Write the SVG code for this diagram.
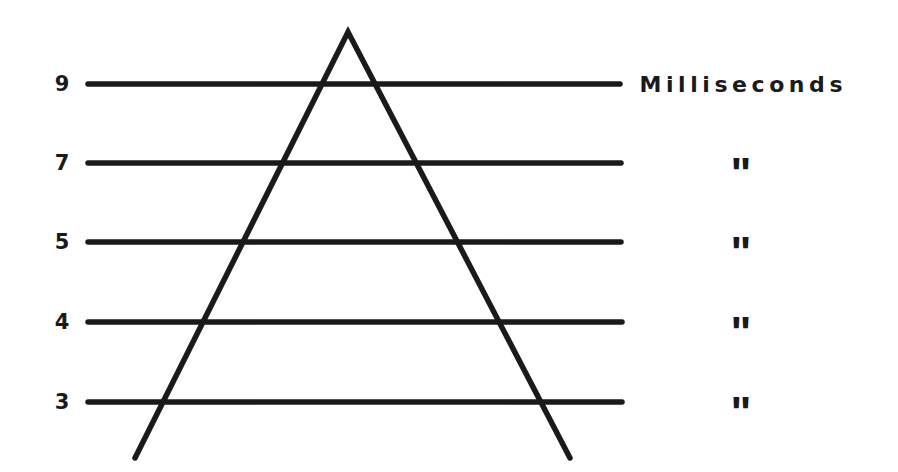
<svg xmlns="http://www.w3.org/2000/svg" width="898" height="472" viewBox="0 0 898 472">
<style>
.ln{stroke:#1a1a1a;stroke-width:5.5;stroke-linecap:round;fill:none}
.lbl{font-family:"DejaVu Sans","Liberation Sans",Arial,sans-serif;font-weight:bold;font-size:21px;fill:#1a1a1a;text-anchor:middle;dominant-baseline:central}
.unit{font-size:22px}
.dit{font-family:"Liberation Sans",Arial,sans-serif;font-weight:bold;font-size:44px;fill:#1a1a1a;text-anchor:middle}
</style>
<rect width="898" height="472" fill="#ffffff"/>
<g id="connectors">
<line class="ln" x1="88" y1="84" x2="620" y2="84"/>
<line class="ln" x1="88" y1="163" x2="621" y2="163"/>
<line class="ln" x1="88" y1="242" x2="621" y2="242"/>
<line class="ln" x1="88" y1="322" x2="622" y2="322"/>
<line class="ln" x1="88" y1="402" x2="622" y2="402"/>
<polyline class="ln" points="135,458 348,32 570,458" stroke-linejoin="miter"/>
</g>
<g id="label-9"><text class="lbl" x="62" y="84">9</text></g>
<g id="label-7"><text class="lbl" x="62" y="163">7</text></g>
<g id="label-5"><text class="lbl" x="62" y="242">5</text></g>
<g id="label-4"><text class="lbl" x="62" y="322">4</text></g>
<g id="label-3"><text class="lbl" x="62" y="402">3</text></g>
<g id="unit"><text class="lbl unit" x="741" y="84" textLength="203" lengthAdjust="spacing">Milliseconds</text></g>
<g id="ditto-7"><text class="dit" x="741" y="189">"</text></g>
<g id="ditto-5"><text class="dit" x="741" y="268">"</text></g>
<g id="ditto-4"><text class="dit" x="741" y="348">"</text></g>
<g id="ditto-3"><text class="dit" x="741" y="428">"</text></g>
</svg>
